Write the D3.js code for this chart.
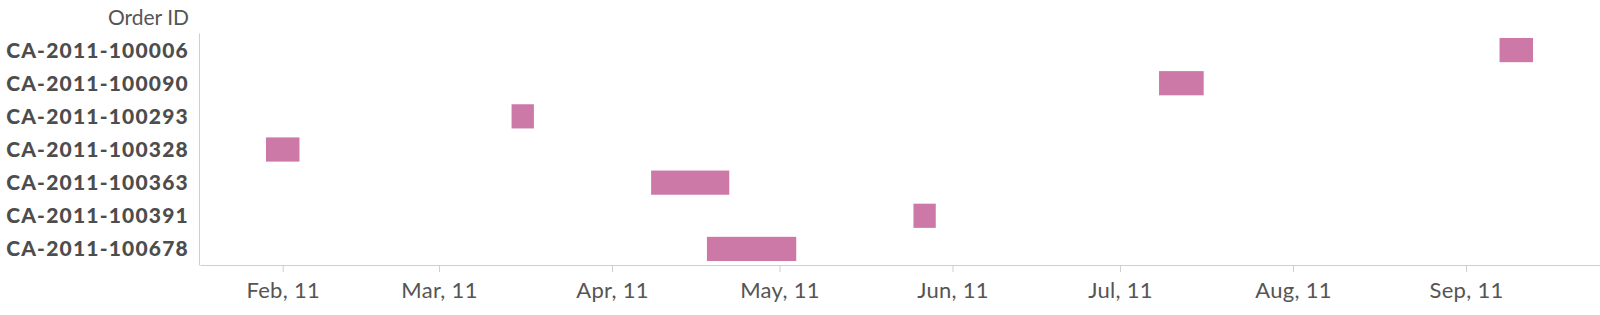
<!DOCTYPE html>
<html>
<head>
<meta charset="utf-8">
<script src="https://cdn.jsdelivr.net/npm/d3@7"></script>
<style>
  html, body { margin: 0; padding: 0; background: #fff; }
  svg { display: block; }
</style>
</head>
<body>
<svg id="chart" width="1600" height="315"></svg>
<script>
// ---- Data ----
const orderIds = ["CA-2011-100006","CA-2011-100090","CA-2011-100293","CA-2011-100328","CA-2011-100363","CA-2011-100391","CA-2011-100678"];
const startDates = ["2011-09-07","2011-07-08","2011-03-14","2011-01-29","2011-04-08","2011-05-25","2011-04-18"];
const endDates   = ["2011-09-13","2011-07-16","2011-03-18","2011-02-04","2011-04-22","2011-05-29","2011-05-04"];
const yTitle = "Order ID";
const tickFormat = "%b, %y";

(function () {
const parse = d3.timeParse("%Y-%m-%d");
const rows = orderIds.map((id, i) => ({ id, start: parse(startDates[i]), end: parse(endDates[i]) }));

const svg = d3.select("#chart");
const mLeft = 200, mRight = 1600, mTop = 33.5, mBottom = 265.5;

const x = d3.scaleTime()
  .domain([new Date(2011, 0, 17, 4, 20), new Date(2011, 8, 25)])
  .range([mLeft, mRight]);

const y = d3.scaleBand()
  .domain(orderIds)
  .range([mTop, mBottom])
  .paddingInner(0.27)
  .paddingOuter(0.135);

// bars
svg.append("g").selectAll("rect")
  .data(rows)
  .join("rect")
  .attr("x", d => x(d.start))
  .attr("width", d => x(d.end) - x(d.start))
  .attr("y", d => y(d.id))
  .attr("height", y.bandwidth())
  .attr("fill", "#cc79a7");

// y axis line
svg.append("line")
  .attr("x1", mLeft - 0.5).attr("x2", mLeft - 0.5)
  .attr("y1", mTop).attr("y2", mBottom)
  .attr("stroke", "#cfcfcf").attr("stroke-width", 1);

// y labels
svg.append("g").selectAll("text")
  .data(orderIds)
  .join("text")
  .attr("x", 189)
  .attr("y", d => y(d) + y.bandwidth() / 2)
  .attr("dy", "0.36em")
  .attr("text-anchor", "end")
  .attr("font-family", "Lato, sans-serif")
  .attr("font-weight", 900)
  .attr("font-size", 21)
  .attr("letter-spacing", "1.2px")
  .attr("fill", "#4d4d4d")
  .text(d => d);

// y title
svg.append("text")
  .attr("x", 189)
  .attr("y", 25)
  .attr("text-anchor", "end")
  .attr("font-family", "Lato, sans-serif")
  .attr("font-size", 21)
  .attr("fill", "#555")
  .text(yTitle);

// x axis
const xAxis = d3.axisBottom(x)
  .ticks(d3.timeMonth.every(1))
  .tickFormat(d3.timeFormat(tickFormat))
  .tickSizeInner(7)
  .tickSizeOuter(0)
  .tickPadding(10);

const gx = svg.append("g")
  .attr("transform", `translate(0,${mBottom - 0.5})`)
  .call(xAxis);
gx.select(".domain").attr("stroke", "#cfcfcf");
gx.selectAll(".tick line").attr("stroke", "#cfcfcf");
gx.selectAll(".tick text")
  .attr("font-family", "Lato, sans-serif")
  .attr("font-size", 22)
  .attr("letter-spacing", "0.3px")
  .attr("fill", "#555");
})();
</script>
</body>
</html>
